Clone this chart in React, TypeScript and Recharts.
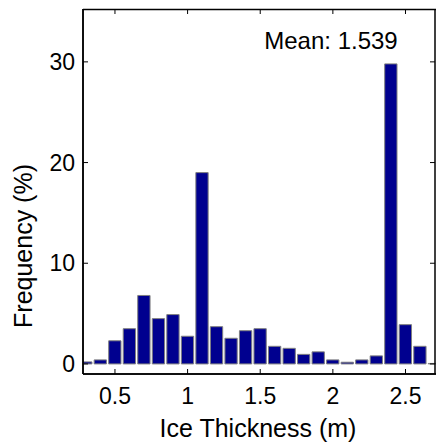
import React from 'react';
import { BarChart, Bar, XAxis, YAxis } from 'recharts';

// bin centres (m) and frequency (%)
const binCenters = [
  0.3, 0.4, 0.5, 0.6, 0.7, 0.8, 0.9, 1.0, 1.1, 1.2, 1.3, 1.4, 1.5, 1.6, 1.7,
  1.8, 1.9, 2.0, 2.1, 2.2, 2.3, 2.4, 2.5, 2.6, 2.7,
];
const frequency = [
  0.2, 0.4, 2.3, 3.5, 6.8, 4.5, 4.9, 2.75, 19.0, 3.7, 2.55, 3.3, 3.5, 1.75,
  1.55, 0.95, 1.2, 0.4, 0.17, 0.4, 0.8, 29.8, 3.9, 1.75, 0.05,
];
const xTicks = [0.5, 1, 1.5, 2, 2.5];
const yTicks = [0, 10, 20, 30];
const meanText = 'Mean: 1.539';

const data = binCenters.map((x, i) => ({ x, freq: frequency[i] }));

const FONT = '"Liberation Sans", Arial, sans-serif';
const W = 437;
const H = 445;
const MARGIN = { top: 9, right: 1, bottom: 0, left: 0 };
const Y_AXIS_W = 83;
const X_AXIS_H = 71;
const X_DOMAIN: [number, number] = [0.28, 2.71];
const Y_DOMAIN: [number, number] = [-1, 35.25];
const TICK = 5;

// plot box, same geometry recharts uses, for the MATLAB-style frame
const left = MARGIN.left + Y_AXIS_W;
const right = W - MARGIN.right;
const top = MARGIN.top;
const bottom = H - MARGIN.bottom - X_AXIS_H;
const sx = (v: number) => left + ((v - X_DOMAIN[0]) / (X_DOMAIN[1] - X_DOMAIN[0])) * (right - left);
const sy = (v: number) => bottom - ((v - Y_DOMAIN[0]) / (Y_DOMAIN[1] - Y_DOMAIN[0])) * (bottom - top);

const tickStyle = { fontSize: 23, fill: '#000', fontFamily: FONT };

// frame drawn as an overlay on top of the chart
const Frame = () => (
  <svg
    width={W}
    height={H}
    style={{ position: 'absolute', left: 0, top: 0, pointerEvents: 'none' }}
  >
    <g stroke="#000" strokeWidth={1} fill="none">
      <line x1={left} y1={top + 0.5} x2={right} y2={top + 0.5} strokeWidth={1.5} />
      <line x1={right - 1} y1={top} x2={right - 1} y2={bottom} strokeWidth={1.5} />
      <line x1={left} y1={top} x2={left} y2={bottom} strokeWidth={1.5} />
      <line x1={left} y1={bottom} x2={right} y2={bottom} strokeWidth={1.5} />
      {xTicks.map((t) => (
        <g key={'xt' + t}>
          <line x1={sx(t)} y1={bottom} x2={sx(t)} y2={bottom - TICK} />
          <line x1={sx(t)} y1={top} x2={sx(t)} y2={top + TICK} />
        </g>
      ))}
      {yTicks.map((v) => (
        <g key={'yt' + v}>
          <line x1={left} y1={sy(v)} x2={left + TICK} y2={sy(v)} />
          <line x1={right - 1} y1={sy(v)} x2={right - 1 - TICK} y2={sy(v)} />
        </g>
      ))}
    </g>
  </svg>
);

export default function App() {
  return (
    <div style={{ position: 'absolute', left: 0, top: 0, width: W, height: H, background: '#fff' }}>
      <BarChart width={W} height={H} data={data} margin={MARGIN}>
        <XAxis
          dataKey="x"
          type="number"
          domain={X_DOMAIN}
          allowDataOverflow
          ticks={xTicks}
          height={X_AXIS_H}
          tickSize={0}
          tickMargin={14}
          tick={tickStyle}
          tickLine={false}
          axisLine={{ stroke: '#000', strokeWidth: 1.5 }}
        />
        <YAxis
          type="number"
          domain={Y_DOMAIN}
          allowDataOverflow
          ticks={yTicks}
          width={Y_AXIS_W}
          tickSize={0}
          tickMargin={8}
          tick={tickStyle}
          tickLine={false}
          axisLine={{ stroke: '#000', strokeWidth: 1.5 }}
        />
        <Bar
          dataKey="freq"
          barSize={12.3}
          fill="#00008f"
          stroke="#808080"
          strokeWidth={1}
          isAnimationActive={false}
        />
        <text x={331} y={49} textAnchor="middle" fontSize={24} fontFamily={FONT} fill="#000">
          {meanText}
        </text>
        <text x={258} y={437} textAnchor="middle" fontSize={25} fontFamily={FONT} fill="#000">
          Ice Thickness (m)
        </text>
        <text
          x={32}
          y={246}
          transform="rotate(-90 32 246)"
          textAnchor="middle"
          fontSize={25}
          fontFamily={FONT}
          fill="#000"
        >
          Frequency (%)
        </text>
      </BarChart>
      <Frame />
    </div>
  );
}
